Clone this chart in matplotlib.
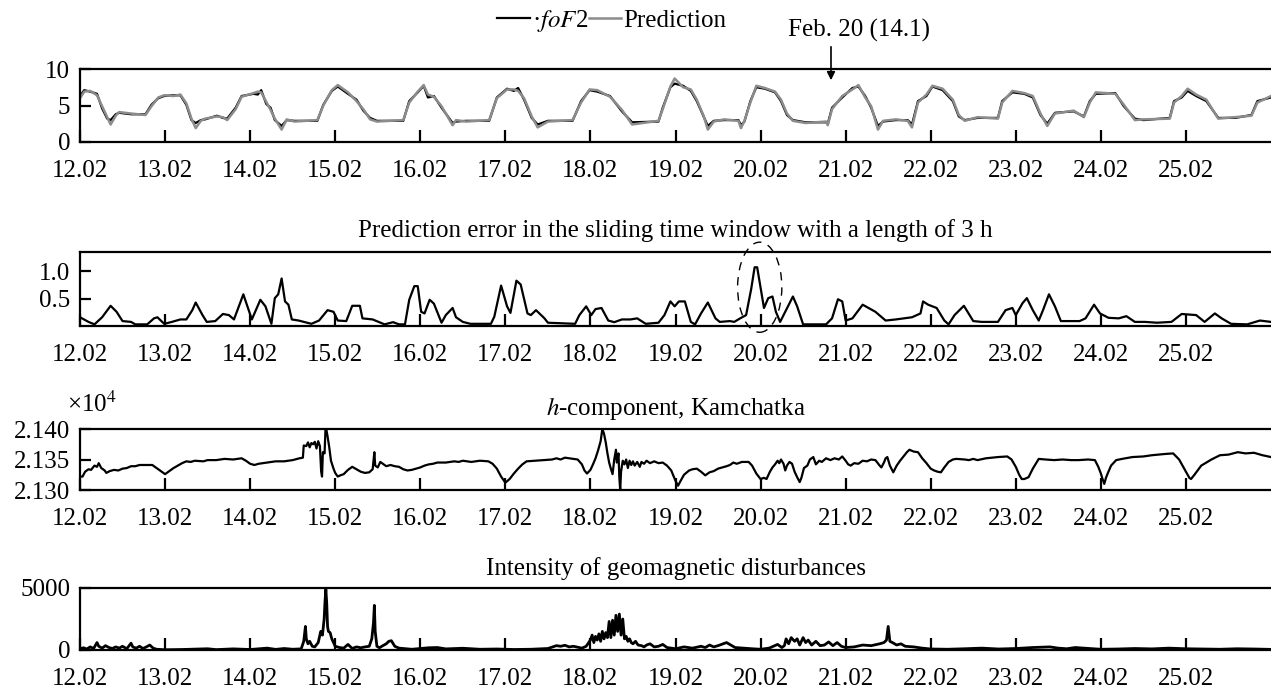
import matplotlib
matplotlib.use('Agg')
import matplotlib.pyplot as plt
from matplotlib.patches import Ellipse, FancyArrowPatch

plt.rcParams['font.family'] = ['Liberation Serif', 'DejaVu Serif']
plt.rcParams['mathtext.fontset'] = 'stix'

# time in days from 12.02 00:00
day_labels = ['12.02', '13.02', '14.02', '15.02', '16.02', '17.02', '18.02',
              '19.02', '20.02', '21.02', '22.02', '23.02', '24.02', '25.02']

# foF2 (black) and prediction (gray), MHz
t_fof2 = [0, 0.05, 0.12, 0.2, 0.26, 0.32, 0.36, 0.42, 0.46, 0.6, 0.77, 0.84, 0.92, 0.99, 1.1, 1.18,
          1.25, 1.31, 1.36, 1.42, 1.47, 1.61, 1.68, 1.73, 1.83, 1.9, 2.04, 2.09, 2.13, 2.19, 2.24,
          2.29, 2.37, 2.43, 2.52, 2.79, 2.86, 2.96, 3.03, 3.15, 3.25, 3.33, 3.41, 3.49, 3.8, 3.87,
          3.97, 4.04, 4.09, 4.16, 4.25, 4.38, 4.42, 4.54, 4.81, 4.9, 5.02, 5.1, 5.15, 5.22, 5.31,
          5.38, 5.5, 5.79, 5.89, 5.99, 6.08, 6.23, 6.37, 6.49, 6.8, 6.85, 6.94, 6.99, 7.09, 7.18,
          7.25, 7.33, 7.38, 7.45, 7.57, 7.74, 7.77, 7.81, 7.88, 7.95, 8.05, 8.17, 8.24, 8.31, 8.38,
          8.53, 8.77, 8.79, 8.84, 8.96, 9.08, 9.15, 9.23, 9.3, 9.38, 9.44, 9.59, 9.73, 9.78, 9.85,
          9.95, 10.02, 10.14, 10.26, 10.33, 10.4, 10.55, 10.79, 10.84, 10.96, 11.1, 11.2, 11.29,
          11.37, 11.46, 11.68, 11.8, 11.87, 11.94, 12.17, 12.27, 12.4, 12.5, 12.81, 12.86, 12.95,
          13.02, 13.12, 13.24, 13.38, 13.58, 13.77, 13.84, 14.0]
fof2 = [6.3, 7.1, 6.9, 6.6, 4.6, 3.2, 3.0, 3.8, 4.0, 3.8, 3.8, 5.1, 6.0, 6.3, 6.4, 6.4,
        5.1, 3.0, 2.6, 3.0, 3.1, 3.6, 3.3, 3.2, 4.7, 6.3, 6.6, 6.5, 7.1, 5.2, 4.7,
        3.0, 2.2, 3.0, 2.9, 2.9, 5.1, 7.0, 7.6, 6.6, 5.8, 4.3, 3.3, 2.9, 2.9, 5.6,
        6.8, 7.7, 6.1, 6.3, 4.7, 2.6, 2.8, 2.9, 2.9, 6.1, 7.3, 7.0, 7.4, 5.8, 3.3,
        2.4, 2.9, 2.9, 5.6, 7.1, 6.9, 6.3, 4.2, 2.7, 2.8, 4.7, 7.5, 8.0, 7.7, 7.0,
        5.6, 3.5, 2.2, 2.9, 3.0, 3.0, 2.3, 2.8, 5.6, 7.5, 7.3, 6.8, 5.6, 3.7, 3.0,
        2.7, 2.7, 2.5, 4.7, 6.1, 7.4, 7.6, 6.3, 4.7, 2.2, 2.8, 3.0, 3.0, 2.4, 5.6,
        6.3, 7.6, 7.1, 5.6, 3.5, 3.0, 3.3, 3.3, 5.6, 6.8, 6.6, 6.1, 3.7,
        2.5, 4.0, 4.2, 3.5, 5.6, 6.6, 6.7, 4.9, 3.2, 3.0, 3.3, 5.6, 6.1,
        7.0, 6.3, 5.6, 3.3, 3.3, 3.7, 5.6, 6.1]
prediction = [6.0, 6.9, 7.0, 6.4, 4.9, 3.4, 2.4, 3.6, 4.1, 3.9, 3.7, 4.9, 6.1, 6.4, 6.3, 6.5,
              5.3, 3.2, 1.9, 2.9, 3.2, 3.5, 3.4, 3.0, 4.5, 6.2, 6.7, 6.9, 6.8, 5.5, 4.4,
              3.2, 1.7, 3.1, 2.8, 3.0, 5.0, 7.1, 7.8, 6.8, 5.6, 4.5, 3.1, 2.8, 3.0, 5.4,
              6.9, 7.8, 6.5, 6.2, 4.9, 2.3, 3.0, 2.8, 3.0, 6.0, 7.2, 7.2, 7.0, 6.0, 3.5,
              2.0, 2.8, 3.0, 5.4, 7.2, 7.1, 6.2, 4.4, 2.4, 2.9, 4.5, 7.6, 8.7, 7.5, 7.2,
              5.8, 3.6, 1.7, 2.8, 3.1, 2.9, 1.9, 2.9, 5.4, 7.7, 7.4, 6.9, 5.8, 3.9, 2.9,
              2.6, 2.8, 2.3, 4.5, 6.3, 7.2, 7.8, 6.1, 4.9, 1.7, 2.9, 3.1, 2.9, 2.0, 5.4,
              6.5, 7.7, 7.3, 5.8, 3.7, 2.9, 3.4, 3.2, 5.4, 7.0, 6.7, 6.3, 3.9,
              2.2, 3.9, 4.3, 3.4, 5.4, 6.8, 6.6, 5.1, 3.0, 3.1, 3.2, 5.4, 6.3,
              7.3, 6.5, 5.8, 3.2, 3.4, 3.6, 5.4, 6.3]

# prediction error in a 3 h sliding window
t_err = [0, 0.1, 0.17, 0.26, 0.36, 0.43, 0.5, 0.6, 0.65, 0.79, 0.87, 0.91, 0.99, 1.08, 1.18, 1.25,
         1.32, 1.36, 1.44, 1.49, 1.59, 1.68, 1.75, 1.81, 1.92, 2.02, 2.12, 2.18, 2.25, 2.29, 2.33,
         2.37, 2.41, 2.45, 2.49, 2.57, 2.72, 2.81, 2.91, 2.98, 3.03, 3.13, 3.2, 3.29, 3.32, 3.44,
         3.51, 3.58, 3.68, 3.75, 3.82, 3.87, 3.93, 3.97, 4.01, 4.05, 4.11, 4.16, 4.25, 4.3, 4.38,
         4.42, 4.5, 4.59, 4.83, 4.87, 4.95, 5.02, 5.06, 5.13, 5.18, 5.26, 5.3, 5.36, 5.46, 5.5,
         5.82, 5.87, 5.95, 6.01, 6.06, 6.13, 6.21, 6.28, 6.37, 6.47, 6.55, 6.65, 6.8, 6.87, 6.94,
         6.99, 7.04, 7.11, 7.18, 7.23, 7.3, 7.38, 7.47, 7.52, 7.64, 7.69, 7.76, 7.83, 7.89, 7.93,
         7.96, 8.0, 8.04, 8.09, 8.14, 8.18, 8.23, 8.3, 8.38, 8.43, 8.5, 8.77, 8.84, 8.91, 8.96,
         9.0, 9.08, 9.2, 9.27, 9.35, 9.47, 9.59, 9.78, 9.88, 9.91, 9.97, 10.07, 10.16, 10.21,
         10.28, 10.39, 10.5, 10.6, 10.79, 10.88, 10.96, 11.0, 11.08, 11.13, 11.2, 11.27, 11.32,
         11.39, 11.46, 11.53, 11.75, 11.82, 11.92, 11.99, 12.09, 12.21, 12.3, 12.4, 12.52, 12.66,
         12.83, 12.95, 13.12, 13.22, 13.34, 13.42, 13.53, 13.72, 13.87, 14.0]
err = [0.16, 0.075, 0.03, 0.16, 0.37, 0.26, 0.09, 0.075, 0.03, 0.03, 0.14, 0.16, 0.04, 0.075, 0.12, 0.12,
       0.29, 0.43, 0.2, 0.075, 0.09, 0.22, 0.2, 0.12, 0.58, 0.12, 0.48, 0.36, 0.04, 0.51, 0.58,
       0.87, 0.45, 0.39, 0.12, 0.1, 0.04, 0.1, 0.29, 0.26, 0.1, 0.09, 0.37, 0.37, 0.14, 0.12,
       0.075, 0.03, 0.07, 0.03, 0.03, 0.48, 0.73, 0.73, 0.26, 0.23, 0.48, 0.41, 0.06, 0.2, 0.33,
       0.16, 0.075, 0.04, 0.04, 0.17, 0.74, 0.36, 0.24, 0.83, 0.76, 0.23, 0.2, 0.29, 0.14, 0.06,
       0.04, 0.2, 0.36, 0.2, 0.31, 0.33, 0.1, 0.07, 0.12, 0.12, 0.14, 0.04, 0.06, 0.2, 0.45,
       0.36, 0.45, 0.45, 0.075, 0.03, 0.23, 0.43, 0.14, 0.075, 0.09, 0.075, 0.14, 0.2, 0.68, 1.075,
       1.075, 0.7, 0.33, 0.51, 0.54, 0.26, 0.075, 0.29, 0.54, 0.36, 0.03, 0.03, 0.14, 0.49, 0.45,
       0.1, 0.14, 0.39, 0.33, 0.26, 0.1, 0.12, 0.16, 0.23, 0.45, 0.39, 0.33, 0.1, 0.03,
       0.2, 0.37, 0.09, 0.075, 0.075, 0.29, 0.33, 0.2, 0.42, 0.51, 0.29, 0.1, 0.29,
       0.58, 0.36, 0.09, 0.09, 0.14, 0.39, 0.23, 0.15, 0.14, 0.18, 0.075, 0.075, 0.06,
       0.075, 0.22, 0.2, 0.075, 0.23, 0.14, 0.04, 0.03, 0.1, 0.075]

# h-component, Kamchatka (x10^4 nT)
t_h = [0, 0.03, 0.06, 0.1, 0.13, 0.17, 0.2, 0.22, 0.25, 0.29, 0.31, 0.35, 0.4, 0.45, 0.5, 0.55,
       0.6, 0.65, 0.7, 0.8, 0.85, 0.9, 0.95, 1.0, 1.05, 1.1, 1.15, 1.2, 1.25, 1.3, 1.35, 1.45,
       1.5, 1.6, 1.7, 1.8, 1.9, 1.95, 2.0, 2.05, 2.1, 2.2, 2.3, 2.4, 2.5, 2.58, 2.62, 2.63,
       2.66, 2.68, 2.7, 2.72, 2.74, 2.76, 2.78, 2.8, 2.82, 2.835, 2.845, 2.855, 2.875, 2.885,
       2.895, 2.91, 2.93, 2.95, 2.98, 3.0, 3.03, 3.06, 3.1, 3.15, 3.2, 3.25, 3.3, 3.35, 3.4,
       3.44, 3.46, 3.47, 3.5, 3.53, 3.56, 3.6, 3.65, 3.7, 3.75, 3.8, 3.85, 3.9, 3.95, 4.0, 4.05,
       4.1, 4.15, 4.2, 4.3, 4.4, 4.45, 4.5, 4.6, 4.7, 4.8, 4.85, 4.9, 4.95, 5.0, 5.05, 5.1,
       5.15, 5.2, 5.25, 5.35, 5.45, 5.55, 5.6, 5.65, 5.7, 5.75, 5.85, 5.9, 5.93, 5.96, 6.0,
       6.03, 6.06, 6.09, 6.12, 6.14, 6.16, 6.18, 6.2, 6.22, 6.24, 6.26, 6.28, 6.3, 6.31, 6.33,
       6.34, 6.35, 6.36, 6.38, 6.4, 6.42, 6.44, 6.46, 6.48, 6.5, 6.52, 6.55, 6.58, 6.6, 6.63,
       6.66, 6.7, 6.75, 6.8, 6.85, 6.9, 6.95, 7.0, 7.03, 7.06, 7.1, 7.16, 7.2, 7.25, 7.3, 7.35,
       7.4, 7.45, 7.5, 7.55, 7.6, 7.64, 7.68, 7.72, 7.78, 7.86, 7.9, 7.95, 8.0, 8.04, 8.07,
       8.11, 8.14, 8.17, 8.2, 8.22, 8.24, 8.27, 8.29, 8.31, 8.34, 8.37, 8.4, 8.43, 8.46, 8.48,
       8.51, 8.55, 8.58, 8.62, 8.65, 8.69, 8.72, 8.77, 8.82, 8.87, 8.92, 8.96, 9.0, 9.03, 9.06,
       9.1, 9.15, 9.2, 9.25, 9.3, 9.35, 9.4, 9.42, 9.45, 9.47, 9.49, 9.52, 9.56, 9.6, 9.64,
       9.68, 9.72, 9.75, 9.8, 9.85, 9.9, 9.95, 10.0, 10.04, 10.08, 10.12, 10.16, 10.21, 10.26,
       10.3, 10.4, 10.45, 10.5, 10.55, 10.65, 10.79, 10.9, 10.95, 11.0, 11.04, 11.07, 11.1,
       11.15, 11.2, 11.27, 11.35, 11.45, 11.55, 11.65, 11.74, 11.85, 11.93, 11.97, 12.0, 12.02,
       12.04, 12.06, 12.08, 12.12, 12.18, 12.25, 12.37, 12.5, 12.6, 12.75, 12.85, 12.92, 12.98,
       13.04, 13.06, 13.1, 13.18, 13.3, 13.4, 13.5, 13.61, 13.7, 13.8, 13.9, 14.0]
h_comp = [2.1322, 2.1322, 2.1330, 2.1334, 2.1333, 2.1340, 2.1338, 2.1344, 2.1336, 2.1332, 2.1328, 2.1331,
          2.1333, 2.1332, 2.1335, 2.1336, 2.1339, 2.1339, 2.1341, 2.1341, 2.1341, 2.1336, 2.1331,
          2.1326, 2.1331, 2.1336, 2.1340, 2.1344, 2.1347, 2.1346, 2.1348, 2.1347, 2.1349, 2.1349,
          2.1351, 2.1350, 2.1352, 2.1348, 2.1343, 2.1341, 2.1343, 2.1345, 2.1347, 2.1347, 2.1349,
          2.1352, 2.1353, 2.1373, 2.1372, 2.1378, 2.1370, 2.1377, 2.1375, 2.1379, 2.1368, 2.1380,
          2.1372, 2.1330, 2.1322, 2.1362, 2.1360, 2.1398, 2.1400, 2.1388, 2.1370, 2.1348, 2.1335,
          2.1328, 2.1322, 2.1324, 2.1326, 2.1333, 2.1338, 2.1334, 2.1330, 2.1328, 2.1329, 2.1334,
          2.1362, 2.1340, 2.1337, 2.1346, 2.1343, 2.1339, 2.1341, 2.1339, 2.1338, 2.1334, 2.1332,
          2.1333, 2.1335, 2.1337, 2.1340, 2.1342, 2.1343, 2.1345, 2.1345, 2.1347, 2.1346, 2.1348,
          2.1346, 2.1348, 2.1347, 2.1343, 2.1335, 2.1322, 2.1312, 2.1318, 2.1327, 2.1335, 2.1342,
          2.1347, 2.1348, 2.1349, 2.1350, 2.1352, 2.1350, 2.1353, 2.1352, 2.1350, 2.1342, 2.1332,
          2.1327, 2.1333, 2.1342, 2.1352, 2.1365, 2.1380, 2.1400, 2.1392, 2.1378, 2.1360, 2.1345,
          2.1335, 2.1326, 2.1350, 2.1366, 2.1345, 2.1360, 2.1320, 2.1300, 2.1330, 2.1348, 2.1342,
          2.1350, 2.1336, 2.1348, 2.1341, 2.1347, 2.1340, 2.1346, 2.1338, 2.1346, 2.1343, 2.1348,
          2.1344, 2.1347, 2.1344, 2.1345, 2.1340, 2.1332, 2.1315, 2.1307, 2.1315, 2.1325, 2.1332,
          2.1334, 2.1335, 2.1330, 2.1324, 2.1329, 2.1331, 2.1335, 2.1337, 2.1339, 2.1341, 2.1345,
          2.1343, 2.1346, 2.1346, 2.1340, 2.1327, 2.1318, 2.1320, 2.1318, 2.1330, 2.1337, 2.1342,
          2.1348, 2.1344, 2.1350, 2.1343, 2.1332, 2.1340, 2.1346, 2.1343, 2.1330, 2.1321, 2.1313,
          2.1320, 2.1336, 2.1340, 2.1350, 2.1354, 2.1342, 2.1348, 2.1346, 2.1352, 2.1349, 2.1352,
          2.1350, 2.1355, 2.1348, 2.1342, 2.1340, 2.1344, 2.1343, 2.1348, 2.1347, 2.1350, 2.1349,
          2.1340, 2.1337, 2.1345, 2.1352, 2.1354, 2.1340, 2.1329, 2.1340, 2.1348, 2.1355, 2.1362,
          2.1366, 2.1363, 2.1362, 2.1352, 2.1344, 2.1335, 2.1332, 2.1330, 2.1329, 2.1337, 2.1346,
          2.1350, 2.1351, 2.1350, 2.1349, 2.1351, 2.1349, 2.1352, 2.1354, 2.1355, 2.1350, 2.1338,
          2.1325, 2.1318, 2.1318, 2.1321, 2.1335, 2.1351, 2.1350, 2.1349, 2.1350, 2.1349, 2.1349,
          2.1350, 2.1349, 2.1338, 2.1327, 2.1318, 2.1310, 2.1320, 2.1327, 2.1340, 2.1349, 2.1351,
          2.1354, 2.1355, 2.1357, 2.1359, 2.1360, 2.1350, 2.1335, 2.1320, 2.1318, 2.1325, 2.1340,
          2.1350, 2.1357, 2.1358, 2.1362, 2.1360, 2.1361, 2.1357, 2.1354]

# intensity of geomagnetic disturbances
t_int = [0, 0.04, 0.08, 0.12, 0.16, 0.2, 0.22, 0.26, 0.3, 0.34, 0.38, 0.42, 0.46, 0.5, 0.55, 0.6,
         0.62, 0.66, 0.7, 0.74, 0.78, 0.82, 0.86, 0.9, 1.0, 1.2, 1.5, 1.6, 1.8, 2.0, 2.2, 2.3,
         2.4, 2.5, 2.6, 2.63, 2.65, 2.66, 2.68, 2.7, 2.73, 2.76, 2.8, 2.83, 2.85, 2.87, 2.88, 2.89,
         2.9, 2.91, 2.92, 2.94, 2.96, 2.98, 3.0, 3.05, 3.1, 3.15, 3.2, 3.25, 3.3, 3.35, 3.4, 3.43,
         3.45, 3.46, 3.47, 3.49, 3.52, 3.56, 3.6, 3.63, 3.66, 3.7, 3.75, 3.8, 3.9, 4.0, 4.1, 4.2,
         4.3, 4.5, 4.7, 4.9, 5.1, 5.3, 5.5, 5.6, 5.65, 5.7, 5.75, 5.8, 5.9, 5.95, 6.0, 6.02, 6.04,
         6.06, 6.08, 6.1, 6.12, 6.14, 6.16, 6.18, 6.2, 6.22, 6.24, 6.26, 6.28, 6.3, 6.32, 6.34,
         6.36, 6.38, 6.4, 6.42, 6.44, 6.46, 6.48, 6.5, 6.53, 6.56, 6.6, 6.63, 6.66, 6.7, 6.75,
         6.8, 6.85, 6.9, 7.0, 7.1, 7.2, 7.3, 7.35, 7.4, 7.45, 7.5, 7.6, 7.7, 7.8, 7.9, 8.0, 8.1,
         8.2, 8.25, 8.28, 8.3, 8.33, 8.36, 8.4, 8.43, 8.46, 8.5, 8.53, 8.56, 8.6, 8.65, 8.7, 8.75,
         8.8, 8.85, 8.9, 8.95, 9.0, 9.1, 9.2, 9.3, 9.4, 9.45, 9.48, 9.5, 9.52, 9.55, 9.6, 9.65,
         9.7, 9.8, 9.9, 10.0, 10.2, 10.4, 10.6, 10.8, 11.0, 11.2, 11.4, 11.5, 11.6, 11.7, 11.8,
         12.0, 12.2, 12.4, 12.6, 12.8, 13.0, 13.2, 13.4, 13.6, 13.8, 14.0]
intensity = [100, 180, 80, 250, 120, 600, 300, 150, 350, 200, 120, 250, 150, 300, 100, 550,
             250, 150, 300, 120, 250, 400, 150, 60, 20, 40, 100, 30, 90, 40, 150, 50,
             120, 60, 90, 700, 1900, 900, 500, 700, 300, 250, 600, 1500, 1200, 2500, 3900, 4900,
             3800, 1900, 1500, 1400, 900, 600, 300, 200, 150, 450, 120, 250, 180, 250, 300, 900,
             2200, 3600, 1500, 300, 180, 350, 500, 700, 750, 300, 150, 120, 60, 120, 180, 200,
             90, 140, 60, 80, 40, 60, 120, 350, 300, 380, 250, 300, 150, 300, 800, 1200, 600,
             1100, 800, 1300, 700, 1500, 900, 1400, 1000, 2300, 1000, 2400, 1200, 2800, 1500, 2900,
             1200, 2500, 900, 1100, 700, 900, 600, 500, 700, 400, 350, 250, 400, 500, 250,
             300, 450, 200, 100, 250, 150, 300, 200, 400, 250, 350, 600, 200, 150, 100, 60, 150,
             450, 200, 350, 900, 500, 1000, 700, 900, 400, 1000, 600, 800, 400, 700, 350, 400,
             650, 350, 600, 300, 200, 250, 400, 350, 500, 600, 800, 1900, 700, 600, 400, 500,
             300, 250, 150, 80, 60, 100, 150, 80, 120, 200, 250, 150, 100, 200, 150,
             60, 80, 120, 90, 150, 100, 80, 60, 100, 80, 50]

W, H = 1271, 689
fig = plt.figure(figsize=(W / 100, H / 100), dpi=100)


def panel(top, bottom):
    ax = fig.add_axes([80 / W, 1 - bottom / H, (W - 80) / W, (bottom - top) / H])
    ax.set_xlim(0, 14)
    ax.spines['right'].set_visible(False)
    for s in ['top', 'bottom', 'left']:
        ax.spines[s].set_linewidth(1.6)
    ax.set_xticks(range(14))
    ax.set_xticklabels(day_labels)
    ax.tick_params(axis='x', direction='in', length=9, width=1.6, labelsize=18, pad=13)
    ax.tick_params(axis='y', direction='in', length=8, width=1.6, labelsize=18, pad=7)
    return ax


ax1 = panel(69, 142)
ax1.plot(t_fof2, fof2, color='black', lw=1.6)
ax1.plot(t_fof2, prediction, color='#8c8c8c', lw=1.8)
ax1.set_ylim(0, 10)
ax1.set_yticks([0, 5, 10])
fig.legend(handles=[ax1.lines[0], ax1.lines[1]], labels=['·$\\mathit{foF}$2', 'Prediction'],
           loc='center', bbox_to_anchor=(612 / W, 1 - 21 / H), ncol=2, frameon=False,
           fontsize=18, handlelength=1.3, handletextpad=0.1, columnspacing=0.0,
           borderpad=0)
fig.text(859 / W, 1 - 30 / H, 'Feb. 20 (14.1)', ha='center', va='center', fontsize=18)
fig.add_artist(FancyArrowPatch((831 / W, 1 - 44 / H), (831 / W, 1 - 83 / H),
                               transform=fig.transFigure, arrowstyle='-|>',
                               mutation_scale=12, color='black', lw=1.2))

ax2 = panel(252, 326)
ax2.plot(t_err, err, color='black', lw=1.6)
ax2.set_ylim(0, 1.355)
ax2.set_yticks([0.5, 1.0])
ax2.set_yticklabels(['0.5', '1.0'])
ax2.set_title('Prediction error in the sliding time window with a length of 3 h', fontsize=18, pad=11)
ax2.add_patch(Ellipse((7.99, 0.71), 0.52, 1.65, fill=False, ls=(0, (6, 5)), lw=1.0,
                      color='black', clip_on=False))

ax3 = panel(429, 490)
ax3.plot(t_h, h_comp, color='black', lw=1.6)
ax3.set_ylim(2.130, 2.140)
ax3.set_yticks([2.130, 2.135, 2.140])
ax3.set_yticklabels(['2.130', '2.135', '2.140'])
ax3.set_title('$h$-component, Kamchatka', fontsize=18, pad=10)
ax3.text(92 / W, 1 - 404 / H, '×10$^4$', transform=fig.transFigure, ha='center', va='center',
         fontsize=18)

ax4 = panel(588, 650)
ax4.plot(t_int, intensity, color='black', lw=2.0)
ax4.set_ylim(0, 5000)
ax4.set_yticks([0, 5000])
ax4.set_title('Intensity of geomagnetic disturbances', fontsize=18, pad=9)

fig.savefig('out.png', dpi=100)
